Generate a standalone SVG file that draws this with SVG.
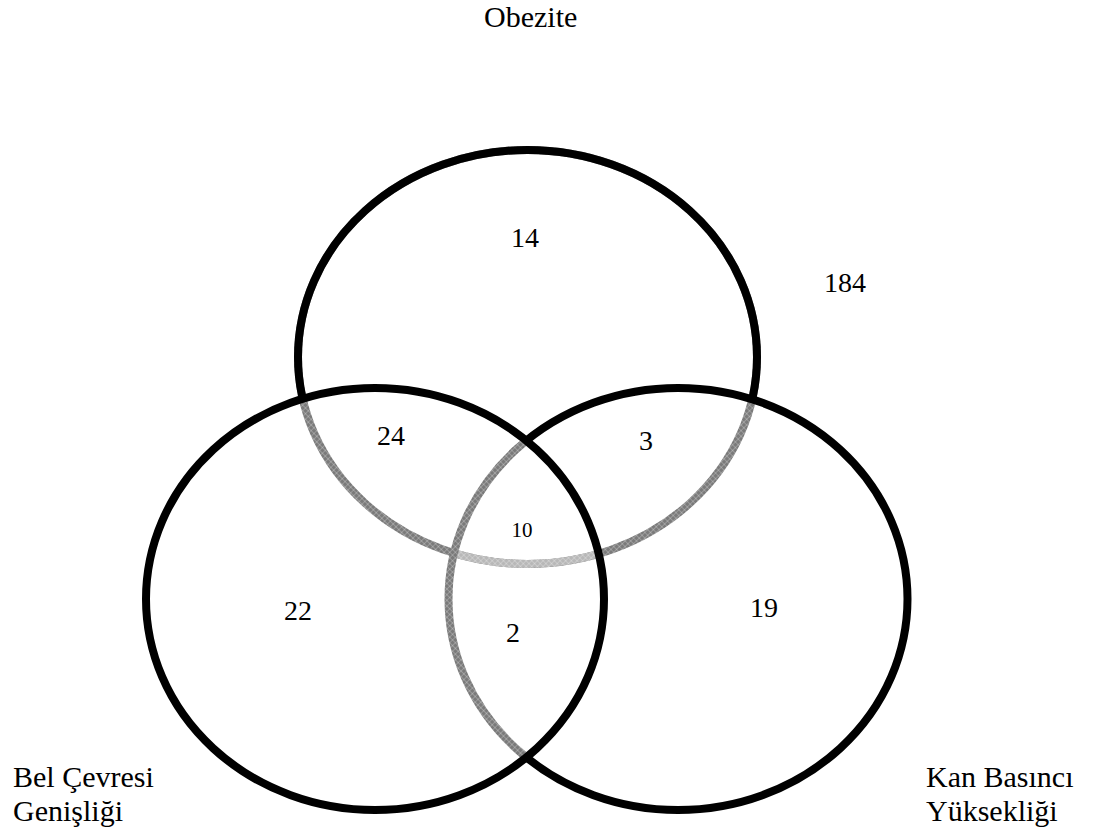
<svg xmlns="http://www.w3.org/2000/svg" width="1099" height="837" viewBox="0 0 1099 837">
<style>
.b{fill:none;stroke:#000;stroke-width:8}
.g{fill:none;stroke:url(#hatch);stroke-width:8}
.l{fill:none;stroke:url(#hatchL);stroke-width:8}
text{font-family:'Liberation Serif','Times New Roman',serif;fill:#000}
.lab{font-size:30px}
.num{font-size:28px;text-anchor:middle}
.sm{font-size:21px;text-anchor:middle}
</style>
<defs>
<pattern id="hatch" width="4" height="4" patternUnits="userSpaceOnUse" patternTransform="rotate(45)">
<rect width="4" height="4" fill="#7a7a7a"/>
<path d="M0 0H4M0 0V4" stroke="#fff" stroke-width="0.6" stroke-opacity="0.8"/>
</pattern>
<pattern id="hatchL" width="4" height="4" patternUnits="userSpaceOnUse" patternTransform="rotate(45)">
<rect width="4" height="4" fill="#b8b8b8"/>
<path d="M0 0H4M0 0V4" stroke="#fff" stroke-width="0.6" stroke-opacity="0.8"/>
</pattern>
<clipPath id="inL"><ellipse cx="375" cy="599" rx="229" ry="211"/></clipPath>
<clipPath id="inR"><ellipse cx="678" cy="599" rx="229.5" ry="211"/></clipPath>
<mask id="mT" maskUnits="userSpaceOnUse" x="0" y="0" width="1099" height="837">
<rect width="1099" height="837" fill="#fff"/>
<ellipse cx="375" cy="599" rx="229" ry="211" fill="#000"/>
<ellipse cx="678" cy="599" rx="229.5" ry="211" fill="#000"/>
</mask>
<mask id="mR" maskUnits="userSpaceOnUse" x="0" y="0" width="1099" height="837">
<rect width="1099" height="837" fill="#fff"/>
<ellipse cx="375" cy="599" rx="229" ry="211" fill="#000"/>
</mask>
</defs>
<rect width="1099" height="837" fill="#fff"/>
<g id="inner-arcs">
<ellipse class="g" cx="527.5" cy="357" rx="229.5" ry="207"/>
<g clip-path="url(#inR)"><ellipse class="l" cx="527.5" cy="357" rx="229.5" ry="207" clip-path="url(#inL)"/></g>
<ellipse class="g" cx="678" cy="599" rx="229.5" ry="211" clip-path="url(#inL)"/>
</g>
<g font-family="Liberation Serif, Times New Roman, serif">
<g id="obezite">
<ellipse class="b" cx="527.5" cy="357" rx="229.5" ry="207" mask="url(#mT)"/>
<text class="lab" x="484" y="27">Obezite</text>
</g>
<g id="kan">
<ellipse class="b" cx="678" cy="599" rx="229.5" ry="211" mask="url(#mR)"/>
<text class="lab" x="926" y="787">Kan Basıncı</text>
<text class="lab" x="926" y="821">Yüksekliği</text>
</g>
<g id="bel">
<ellipse class="b" cx="375" cy="599" rx="229" ry="211"/>
<text class="lab" x="13" y="787">Bel Çevresi</text>
<text class="lab" x="13" y="821">Genişliği</text>
</g>
<g id="counts">
<text class="num" x="525" y="247">14</text>
<text class="num" x="845" y="292">184</text>
<text class="num" x="391" y="445">24</text>
<text class="num" x="646" y="450">3</text>
<text class="sm" x="522" y="537">10</text>
<text class="num" x="298" y="620">22</text>
<text class="num" x="513" y="642">2</text>
<text class="num" x="764" y="617">19</text>
</g>
</g>
</svg>
